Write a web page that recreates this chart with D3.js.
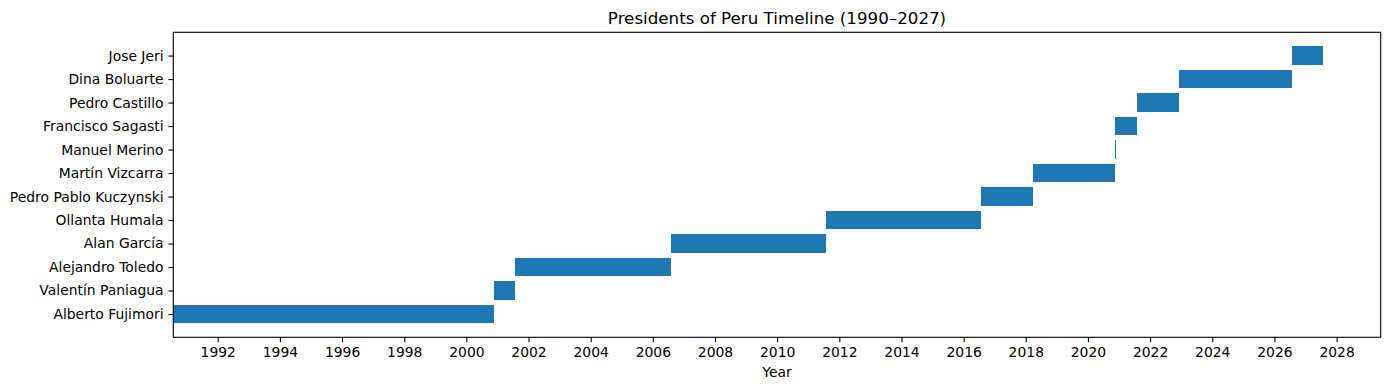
<!DOCTYPE html>
<html>
<head>
<meta charset="utf-8">
<script src="https://cdn.jsdelivr.net/npm/d3@7"></script>
<style>
  html, body { margin: 0; padding: 0; background: #fff; }
  svg { display: block; font-family: "DejaVu Sans", sans-serif; }
</style>
</head>
<body>
<svg id="chart" width="1390" height="390"></svg>
<script>
// ---- Data ----
const presidents = ["Alberto Fujimori", "Valentín Paniagua", "Alejandro Toledo", "Alan García",
  "Ollanta Humala", "Pedro Pablo Kuczynski", "Martín Vizcarra", "Manuel Merino",
  "Francisco Sagasti", "Pedro Castillo", "Dina Boluarte", "Jose Jeri"];
const startDates = ["1990-07-28", "2000-11-22", "2001-07-28", "2006-07-28", "2011-07-28",
  "2016-07-28", "2018-03-23", "2020-11-10", "2020-11-17", "2021-07-28", "2022-12-07", "2026-07-28"];
const endDates = ["2000-11-22", "2001-07-28", "2006-07-28", "2011-07-28", "2016-07-28",
  "2018-03-23", "2020-11-10", "2020-11-15", "2021-07-28", "2022-12-07", "2026-07-28", "2027-07-28"];
const xTickValues = [1992, 1994, 1996, 1998, 2000, 2002, 2004, 2006, 2008, 2010,
  2012, 2014, 2016, 2018, 2020, 2022, 2024, 2026, 2028];
const titleText = "Presidents of Peru Timeline (1990\u20132027)";
const xLabelText = "Year";

// decimal year conversion
function decYear(s) {
  const d = new Date(s + "T00:00:00Z");
  const yr = d.getUTCFullYear();
  const s0 = Date.UTC(yr, 0, 1), s1 = Date.UTC(yr + 1, 0, 1);
  return yr + (d.getTime() - s0) / (s1 - s0);
}
const data = presidents.map((name, i) => ({
  name, i, start: decYear(startDates[i]), end: decYear(endDates[i])
}));

// ---- Layout ----
const svg = d3.select("#chart");
const mLeft = 173.3, mRight = 1380.7, mTop = 32.3, mBottom = 337.3;
const tickLen = 4.86, tickPad = 4.86;

const xmin = d3.min(data, d => d.start);
const dmax = d3.max(data, d => d.end);
const xmax = dmax + 0.05 * (dmax - xmin);
const x = d3.scaleLinear().domain([xmin, xmax]).range([mLeft, mRight]);

const barH = 0.8;
const ylo = -barH / 2, yhi = presidents.length - 1 + barH / 2;
const ym = 0.05 * (yhi - ylo);
const y = d3.scaleLinear().domain([ylo - ym, yhi + ym]).range([mBottom, mTop]);

// bars
svg.append("g").attr("shape-rendering", "crispEdges")
  .selectAll("rect").data(data).join("rect")
  .attr("x", d => x(d.start))
  .attr("width", d => Math.max(x(d.end) - x(d.start), 1))
  .attr("y", d => y(d.i + barH / 2))
  .attr("height", d => y(d.i - barH / 2) - y(d.i + barH / 2))
  .attr("fill", "#1f77b4");

// x axis
const xAxis = d3.axisBottom(x).tickValues(xTickValues).tickFormat(d3.format("d"))
  .tickSize(tickLen).tickPadding(tickPad);
const gx = svg.append("g").attr("transform", `translate(0,${mBottom})`).call(xAxis);
gx.select(".domain").remove();
gx.selectAll(".tick line").attr("stroke", "#000").attr("stroke-width", 1.11);
gx.selectAll(".tick text").attr("fill", "#000").style("font-size", "13.9px")
  .style("font-family", "DejaVu Sans, sans-serif");

// y axis
const yAxis = d3.axisLeft(y).tickValues(d3.range(presidents.length))
  .tickFormat(i => presidents[i]).tickSize(tickLen).tickPadding(tickPad);
const gy = svg.append("g").attr("transform", `translate(${mLeft},0)`).call(yAxis);
gy.select(".domain").remove();
gy.selectAll(".tick line").attr("stroke", "#000").attr("stroke-width", 1.11);
gy.selectAll(".tick text").attr("fill", "#000").style("font-size", "13.9px")
  .style("font-family", "DejaVu Sans, sans-serif");

// frame
svg.append("rect").attr("x", mLeft).attr("y", mTop)
  .attr("width", mRight - mLeft).attr("height", mBottom - mTop)
  .attr("fill", "none").attr("stroke", "#000").attr("stroke-width", 1.11);

// title
svg.append("text").attr("x", (mLeft + mRight) / 2).attr("y", 24)
  .attr("text-anchor", "middle").style("font-size", "16.7px").attr("fill", "#000")
  .text(titleText);

// x label
svg.append("text").attr("x", (mLeft + mRight) / 2).attr("y", 377)
  .attr("text-anchor", "middle").style("font-size", "13.9px").attr("fill", "#000")
  .text(xLabelText);
</script>
</body>
</html>
